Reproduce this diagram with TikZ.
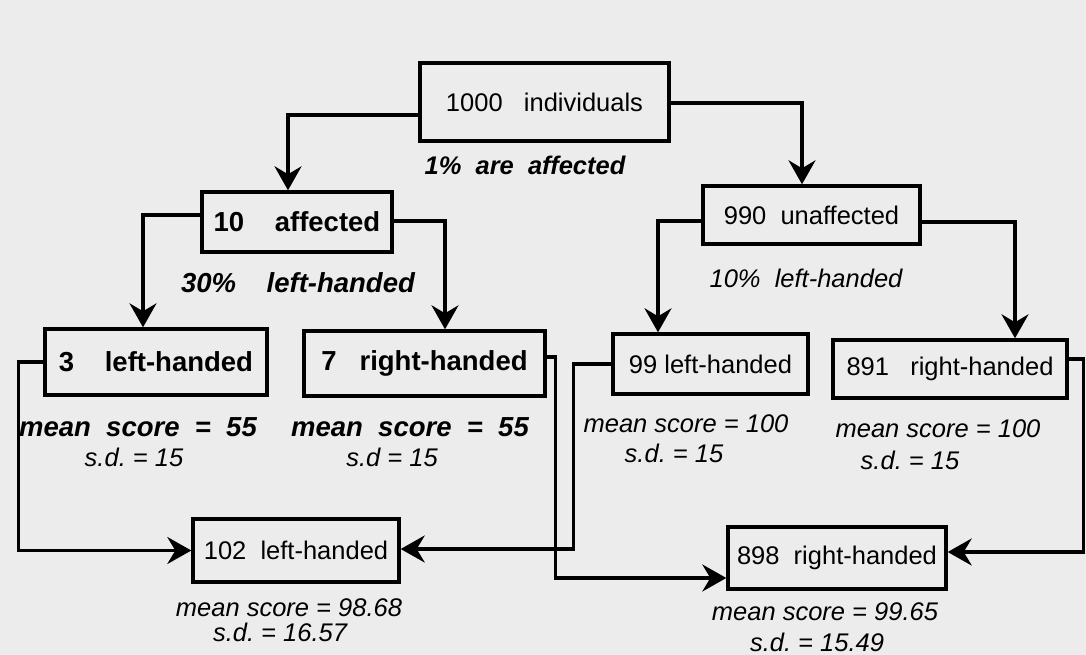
\documentclass[tikz,border=0pt]{standalone}
\usepackage{fontspec}
\setmainfont{Liberation Sans}
\usepackage{tikz}
\usetikzlibrary{arrows.meta}
\definecolor{paper}{HTML}{ECECEC}
\newcommand{\rmsz}{\fontsize{25.5}{30}\selectfont}
\newcommand{\bfsz}{\fontsize{27.5}{32}\selectfont\bfseries}
\frenchspacing

\begin{document}
\begin{tikzpicture}[x=1pt,y=-1pt,every node/.style={font=\rmsz}]
      \tikzstyle{box}=[draw,line width=3.4pt,inner sep=0pt];
      \tikzstyle{bbox}=[box,font=\bfsz];
      \tikzstyle{note}=[font=\rmsz\itshape];
      \tikzstyle{bnote}=[font=\bfsz\itshape];
      \tikzstyle{arr}=[line width=3.2pt,-{Stealth[length=24pt,width=27pt,inset=8pt]}];
      \fill[paper] (0,0) rectangle (1086,655);
      \useasboundingbox (0,0) rectangle (1086,655);
      \node[box,minimum width=249,minimum height=78]  (top)   at (544.5,102) {1000~~~individuals};
      \node[bbox,minimum width=190,minimum height=60] (aff)   at (297,222)   {10~~~~affected};
      \node[box,minimum width=217,minimum height=58]  (unaff) at (811.5,215) {990~~unaffected};
      \node[bbox,minimum width=222,minimum height=66] (lh3)   at (156,362)   {3~~~~left-handed};
      \node[bbox,minimum width=241,minimum height=65] (rh7)   at (424.5,363.5) {7~~~right-handed};
      \node[box,minimum width=195,minimum height=60]  (lh99)  at (710.5,364) {99 left-handed};
      \node[box,minimum width=234,minimum height=58]  (rh891) at (950,369)   {891~~~right-handed};
      \node[box,minimum width=206,minimum height=63]  (lh102) at (296,550.5) {102~~left-handed};
      \node[box,minimum width=218,minimum height=62]  (rh898) at (837,558)   {898~~right-handed};
      \node[bnote,font=\rmsz\bfseries\itshape] (pct1) at (525,165) {1\%~~are~~affected};
      \node[bnote] (pct30) at (298,283) {30\%~~~~left-handed};
      \node[note]  (pct10) at (806,278) {10\%~~left-handed};
      \node[bnote] (m3)   at (138,427) {mean~~score~~=~~55};
      \node[note]  (s3)   at (134,457) {s.d. = 15};
      \node[bnote] (m7)   at (410,427) {mean~~score~~=~~55};
      \node[note]  (s7)   at (392,457) {s.d = 15};
      \node[note]  (m99)  at (686,424) {mean score = 100};
      \node[note]  (s99)  at (674,453) {s.d. = 15};
      \node[note]  (m891) at (938,429) {mean score = 100};
      \node[note]  (s891) at (910,460) {s.d. = 15};
      \node[note]  (m102) at (289,608) {mean score = 98.68};
      \node[note]  (s102) at (280,632) {s.d. = 16.57};
      \node[note]  (m898) at (825,612) {mean score = 99.65};
      \node[note]  (s898) at (817,642) {s.d. = 15.49};
      \draw[arr] ([yshift=-13pt]top.west) -| ([xshift=-9pt]aff.north);
      \draw[arr] ([yshift=-1pt]top.east) -| ([xshift=-9.5pt]unaff.north);
      \draw[arr] ([yshift=7pt]aff.west) -| ([xshift=-13pt]lh3.north);
      \draw[arr] ([yshift=1pt]aff.east) -| ([xshift=20.5pt]rh7.north);
      \draw[arr] ([yshift=-6pt]unaff.west) -| ([xshift=-52.5pt]lh99.north);
      \draw[arr] ([yshift=-7pt]unaff.east) -| ([xshift=65pt]rh891.north);
      \draw[arr] (lh3.west) -- ++(-25,0) |- (lh102.west);
      \draw[arr] (lh99.west) -- ++(-38,0) |- ([yshift=1.5pt]lh102.east);
      \draw[arr] ([yshift=6.5pt]rh7.east) -- ++(9,0) |- ([yshift=-20pt]rh898.west);
      \draw[arr] ([yshift=10pt]rh891.east) -- ++(15,0) |- ([yshift=6pt]rh898.east);
    \end{tikzpicture}
\end{document}
